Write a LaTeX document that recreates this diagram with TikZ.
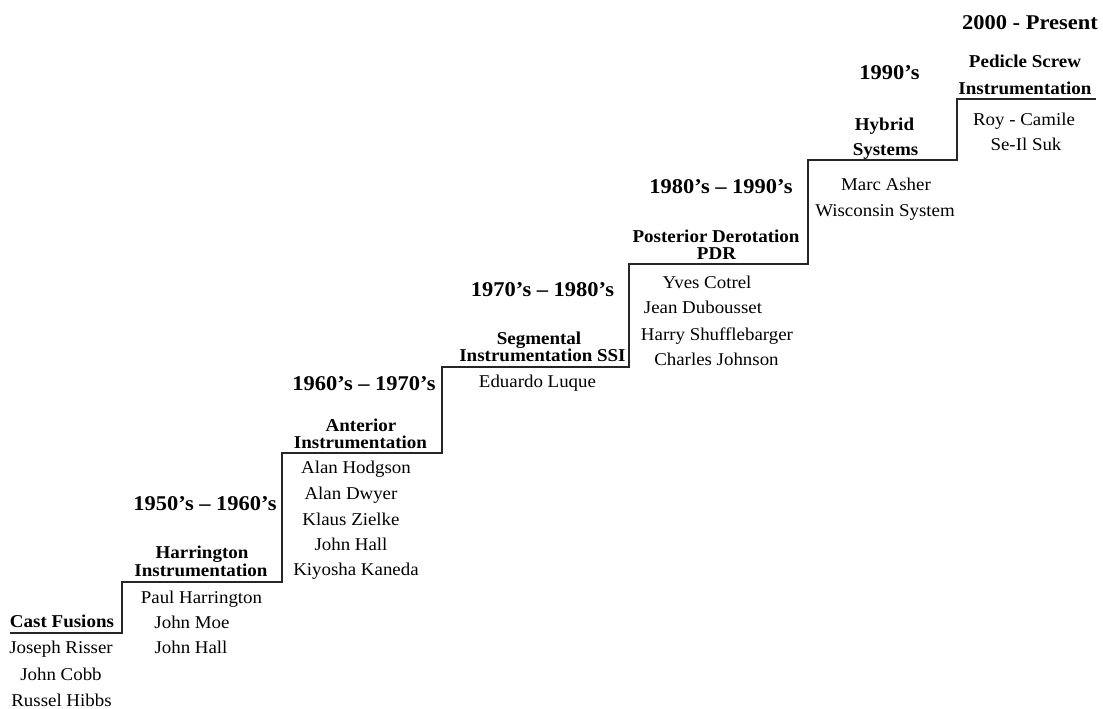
\documentclass[tikz,border=0pt]{standalone}
\usepackage{fontspec}
\setmainfont{Liberation Serif}
\newfontfamily\namefont[Ligatures=TeX,FakeStretch=1.05]{Liberation Serif}
\newfontfamily\erafont[Ligatures=TeX,FakeStretch=1.07]{Liberation Serif}
\begin{document}
\begin{tikzpicture}[x=1pt,y=-1pt,
  person/.style={anchor=base,inner sep=0pt,font=\namefont\fontsize{18}{20}\selectfont},
  head/.style={anchor=base,inner sep=0pt,font=\namefont\fontsize{18.1}{20}\selectfont\bfseries},
  era/.style={anchor=base,inner sep=0pt,font=\erafont\fontsize{21}{24}\selectfont\bfseries},
  stair/.style={draw=black!85,line width=1.2pt}]
\useasboundingbox (0,0) rectangle (1103,709);
% staircase
\draw[stair] (10,633) -- (122,633) -- (122,582) -- (282,582) -- (282,453)
  -- (442,453) -- (442,367) -- (629,367) -- (629,264) -- (808,264)
  -- (808,160) -- (957,160) -- (957,99) -- (1096,99);
% step 1
\node[head] (h1) at (62,627) {Cast Fusions};
\node[person] (p11) at (61,653) {Joseph Risser};
\node[person] (p12) at (61,680) {John Cobb};
\node[person] (p13) at (61.5,706.5) {Russel Hibbs};
% step 2
\node[era] (e2) at (205,510) {1950’s – 1960’s};
\node[head] (h2a) at (202,558) {Harrington};
\node[head] (h2b) at (201,576.5) {Instrumentation};
\node[person] (p21) at (201.5,603) {Paul Harrington};
\node[person] (p22) at (192,628) {John Moe};
\node[person] (p23) at (191,653) {John Hall};
% step 3
\node[era] (e3) at (364,390) {1960’s – 1970’s};
\node[head] (h3a) at (361,431.5) {Anterior};
\node[head] (h3b) at (360.5,448) {Instrumentation};
\node[person] (p31) at (356,473.5) {Alan Hodgson};
\node[person] (p32) at (351,499.5) {Alan Dwyer};
\node[person] (p33) at (351,525) {Klaus Zielke};
\node[person] (p34) at (351,550) {John Hall};
\node[person] (p35) at (356,575) {Kiyosha Kaneda};
% step 4
\node[era] (e4) at (542.5,296.5) {1970’s – 1980’s};
\node[head] (h4a) at (539,344) {Segmental};
\node[head] (h4b) at (542.5,361.5) {Instrumentation SSI};
\node[person] (p41) at (537.5,387) {Eduardo Luque};
% step 5
\node[era] (e5) at (721,193) {1980’s – 1990’s};
\node[head] (h5a) at (716,242.5) {Posterior Derotation};
\node[head] (h5b) at (716.5,259) {PDR};
\node[person] (p51) at (707,288) {Yves Cotrel};
\node[person] (p52) at (703,313.5) {Jean Dubousset};
\node[person] (p53) at (717,340) {Harry Shufflebarger};
\node[person] (p54) at (716.5,365) {Charles Johnson};
% step 6
\node[era] (e6) at (889.5,80) {1990’s};
\node[head] (h6a) at (884.5,130) {Hybrid};
\node[head] (h6b) at (885.5,155) {Systems};
\node[person] (p61) at (886,190) {Marc Asher};
\node[person] (p62) at (885,216.5) {Wisconsin System};
% step 7
\node[era] (e7) at (1030,30) {2000 - Present};
\node[head] (h7a) at (1025,68) {Pedicle Screw};
\node[head] (h7b) at (1025,95) {Instrumentation};
\node[person] (p71) at (1024,125) {Roy - Camile};
\node[person] (p72) at (1026,150) {Se-Il Suk};
\end{tikzpicture}
\end{document}
